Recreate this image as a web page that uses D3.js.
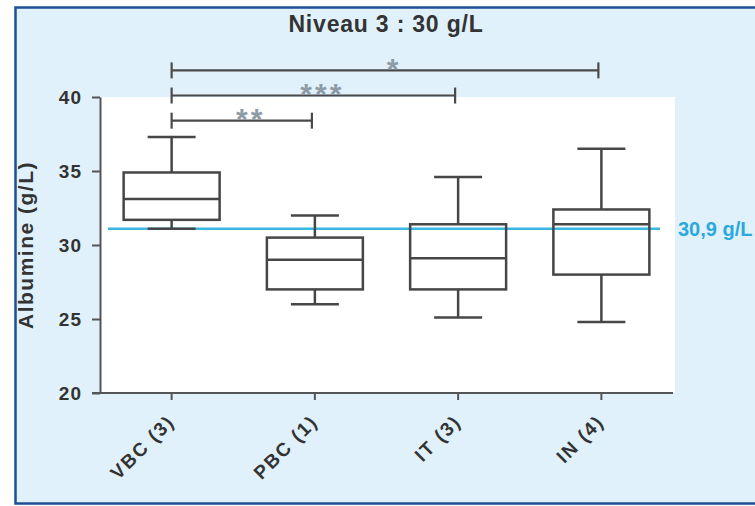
<!DOCTYPE html>
<html>
<head>
<meta charset="utf-8">
<script src="https://cdn.jsdelivr.net/npm/d3@7"></script>
<style>
  html, body { margin: 0; padding: 0; background: #ffffff; overflow: hidden; }
  svg { display: block; overflow: hidden; }
  text { font-family: "Liberation Sans", Arial, sans-serif; }
</style>
</head>
<body>
<svg id="chart" width="755" height="506"></svg>
<script>
// ---- data ----
const categories = ["VBC (3)", "PBC (1)", "IT (3)", "IN (4)"];
const whiskerLow = [31.1, 26.0, 25.1, 24.8];
const q1 = [31.7, 27.0, 27.0, 28.0];
const median = [33.1, 29.0, 29.1, 31.4];
const q3 = [34.9, 30.5, 31.4, 32.4];
const whiskerHigh = [37.3, 32.0, 34.6, 36.5];
const yTicks = [20, 25, 30, 35, 40];
const refValue = 31.1;
const refLabel = "30,9 g/L";
const sigFrom = [0, 0, 0];
const sigTo = [3, 2, 1];
const sigLevel = [41.8, 40.1, 38.4];
const sigLabel = ["*", "***", "**"];
const title = "Niveau 3 : 30 g/L";
const yTitle = "Albumine (g/L)";

// ---- layout ----
const svg = d3.select("#chart");
const L = 100, R = 673, T = 97, B = 393;
const axisCol = "#555555", boxCol = "#464646", textCol = "#333333";

// frame (background + top, left, bottom borders; right edge runs off the picture)
svg.append("rect").attr("x", 15).attr("y", 7).attr("width", 760).attr("height", 497)
  .attr("fill", "#e0f1fb");
const frameCol = "#1d4f93";
svg.append("path").attr("d", "M760,7.5H15.5V503.5H760")
  .attr("fill", "none").attr("stroke", frameCol).attr("stroke-width", 2.5);
// white plot area
svg.append("rect").attr("x", L).attr("y", T).attr("width", 675 - L).attr("height", B - T)
  .attr("fill", "#ffffff");

const x = d3.scaleBand().domain(categories).range([L, R]).padding(0);
const y = d3.scaleLinear().domain([20, 40]).range([B, T]);
const cx = i => x(categories[i]) + x.bandwidth() / 2;
const boxW = x.bandwidth() * 0.67, capW = x.bandwidth() * 0.335;

// y axis
const yAxis = svg.append("g").attr("transform", `translate(${L},0)`)
  .call(d3.axisLeft(y).tickValues(yTicks).tickSize(8).tickSizeOuter(0).tickPadding(10));
yAxis.select(".domain").attr("stroke", axisCol).attr("stroke-width", 2);
yAxis.selectAll(".tick line").attr("stroke", axisCol).attr("stroke-width", 2);
yAxis.selectAll(".tick text").attr("font-size", 19).attr("font-weight", "bold")
  .attr("fill", textCol).attr("letter-spacing", 1).attr("font-family", "Liberation Sans, Arial, sans-serif");

// x axis
const xAxis = svg.append("g").attr("transform", `translate(0,${B})`)
  .call(d3.axisBottom(x).tickSize(7).tickSizeOuter(0).tickFormat(""));
xAxis.select(".domain").attr("stroke", axisCol).attr("stroke-width", 2)
  .attr("d", `M${L - 8},0H${R}`);
xAxis.selectAll(".tick line").attr("stroke", axisCol).attr("stroke-width", 2);
xAxis.selectAll(".tick").append("text")
  .attr("transform", "translate(4,30) rotate(-45)")
  .attr("text-anchor", "end")
  .attr("font-size", 19).attr("font-weight", "bold").attr("letter-spacing", 1.8)
  .attr("fill", textCol).attr("font-family", "Liberation Sans, Arial, sans-serif")
  .text(d => d);

// reference line
svg.append("line").attr("x1", 108).attr("x2", 660)
  .attr("y1", y(refValue)).attr("y2", y(refValue))
  .attr("stroke", "#3cb6e3").attr("stroke-width", 2.5);

// boxes
const g = svg.append("g");
categories.forEach((c, i) => {
  const xc = cx(i);
  g.append("line").attr("x1", xc).attr("x2", xc).attr("y1", y(whiskerHigh[i])).attr("y2", y(q3[i]))
    .attr("stroke", boxCol).attr("stroke-width", 2.5);
  g.append("line").attr("x1", xc).attr("x2", xc).attr("y1", y(q1[i])).attr("y2", y(whiskerLow[i]))
    .attr("stroke", boxCol).attr("stroke-width", 2.5);
  [whiskerHigh[i], whiskerLow[i]].forEach(v => {
    g.append("line").attr("x1", xc - capW / 2).attr("x2", xc + capW / 2).attr("y1", y(v)).attr("y2", y(v))
      .attr("stroke", boxCol).attr("stroke-width", 2.5);
  });
  g.append("rect").attr("x", xc - boxW / 2).attr("y", y(q3[i]))
    .attr("width", boxW).attr("height", y(q1[i]) - y(q3[i]))
    .attr("fill", "none").attr("stroke", boxCol).attr("stroke-width", 2.5);
  g.append("line").attr("x1", xc - boxW / 2).attr("x2", xc + boxW / 2).attr("y1", y(median[i])).attr("y2", y(median[i]))
    .attr("stroke", boxCol).attr("stroke-width", 2.5);
});

// significance brackets
sigFrom.forEach((f, k) => {
  const x1 = cx(f), x2 = cx(sigTo[k]) - 3, yy = y(sigLevel[k]);
  g.append("line").attr("x1", x1).attr("x2", x2).attr("y1", yy).attr("y2", yy)
    .attr("stroke", "#4a4a4a").attr("stroke-width", 2.2);
  [x1, x2].forEach(xx => g.append("line").attr("x1", xx).attr("x2", xx)
    .attr("y1", yy - 8).attr("y2", yy + 8).attr("stroke", "#4a4a4a").attr("stroke-width", 2.2));
  g.append("text").attr("x", (x1 + x2) / 2 + 9).attr("y", yy + 8.5)
    .attr("text-anchor", "middle").attr("font-size", 30).attr("font-weight", "bold")
    .attr("letter-spacing", 3).attr("fill", "#8c9ba6")
    .text(sigLabel[k]);
});

// ref label
svg.append("text").attr("x", 678).attr("y", y(refValue) + 7)
  .attr("font-size", 20).attr("font-weight", "bold").attr("fill", "#2ba9dd")
  .text(refLabel);

// title
svg.append("text").attr("x", 386).attr("y", 32).attr("text-anchor", "middle")
  .attr("font-size", 23).attr("font-weight", "bold").attr("fill", textCol)
  .attr("letter-spacing", 0.8).text(title);

// y title
svg.append("text").attr("transform", `translate(33,${(T + B) / 2}) rotate(-90)`)
  .attr("text-anchor", "middle").attr("font-size", 21).attr("font-weight", "bold")
  .attr("fill", textCol).attr("letter-spacing", 1.5).text(yTitle);
</script>
</body>
</html>
